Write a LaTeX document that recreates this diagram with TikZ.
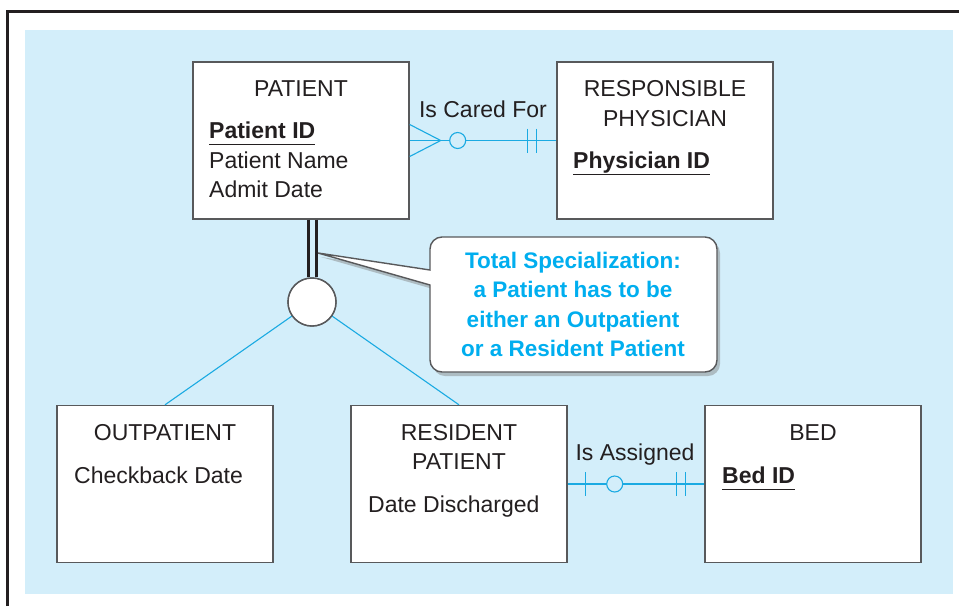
\documentclass[tikz,border=0pt]{standalone}
\usepackage{fontspec}
\setmainfont{Liberation Sans}
\usetikzlibrary{shadows}
\definecolor{bgblue}{HTML}{D3EEFA}
\definecolor{ink}{HTML}{231F20}
\definecolor{cyanline}{HTML}{1AAAE2}
\definecolor{cyantext}{HTML}{00AEEF}
\definecolor{boxgray}{HTML}{58595B}
\tikzset{
  entity/.style={draw=boxgray, line width=1.4pt, fill=white, minimum width=216pt, minimum height=157pt, inner sep=0pt},
  txt/.style={inner sep=0pt, text=ink, font=\fontsize{23}{29.5}\selectfont},
  boldtxt/.style={txt, font=\fontsize{23}{29.5}\selectfont\bfseries},
  rel/.style={draw=cyanline, line width=1.1pt},
  isaline/.style={draw=ink, line width=3pt},
  uline/.style={draw=ink, line width=1pt}
}
\begin{document}
\begin{tikzpicture}[x=1pt,y=-1pt]
\useasboundingbox (0,0) rectangle (959,606);
% frame and background
\fill[bgblue] (25,30) rectangle (953,594);
\draw[ink, line width=2.5pt] (7.5,606) -- (7.5,11.5) -- (959,11.5);

% entities
\node[entity] (patient) at (301,140.5) {};
\node[entity] (physician) at (665,140.5) {};
\node[entity] (outpatient) at (165,484) {};
\node[entity] (resident) at (459,484) {};
\node[entity] (bed) at (813,484) {};

% texts
\node[txt, anchor=base] (tpatient) at (301,96) {PATIENT};
\node[boldtxt, anchor=base west] (pid) at (209,138) {Patient ID};
\node[txt, anchor=base west] (pname) at (209,168) {Patient Name};
\node[txt, anchor=base west] (padmit) at (209,197) {Admit Date};
\draw[uline] ([yshift=-6pt]pid.base west) -- ([yshift=-6pt]pid.base east);

\node[txt, anchor=base] (tresp) at (665,96) {RESPONSIBLE};
\node[txt, anchor=base] (tphys) at (665,126) {PHYSICIAN};
\node[boldtxt, anchor=base west] (phid) at (573,168) {Physician ID};
\draw[uline] ([yshift=-6pt]phid.base west) -- ([yshift=-6pt]phid.base east);

\node[txt, anchor=base] (tout) at (165,440) {OUTPATIENT};
\node[txt, anchor=base west] (checkback) at (74,483) {Checkback Date};

\node[txt, anchor=base] (tres1) at (459,440) {RESIDENT};
\node[txt, anchor=base] (tres2) at (459,469) {PATIENT};
\node[txt, anchor=base west] (discharged) at (368,512) {Date Discharged};

\node[txt, anchor=base] (tbed) at (813,440) {BED};
\node[boldtxt, anchor=base west] (bedid) at (722,483) {Bed ID};
\draw[uline] ([yshift=-6pt]bedid.base west) -- ([yshift=-6pt]bedid.base east);

% Is Cared For relationship
\draw[rel] (patient.east) -- (physician.west);
\draw[rel] ([yshift=16pt]patient.east) -- ([xshift=31pt]patient.east) -- ([yshift=-16pt]patient.east);
\draw[rel, fill=bgblue] ([xshift=48pt]patient.east) circle (8pt);
\draw[rel] ([xshift=-29pt,yshift=12pt]physician.west) -- ([xshift=-29pt,yshift=-12pt]physician.west);
\draw[rel] ([xshift=-20pt,yshift=12pt]physician.west) -- ([xshift=-20pt,yshift=-12pt]physician.west);
\node[txt, anchor=base] (lcared) at (483,117) {Is Cared For};

% Is Assigned relationship
\draw[rel] (resident.east) -- (bed.west);
\draw[rel] ([xshift=18pt,yshift=12pt]resident.east) -- ([xshift=18pt,yshift=-12pt]resident.east);
\draw[rel, fill=bgblue] ([xshift=47pt]resident.east) circle (8pt);
\draw[rel] ([xshift=-28pt,yshift=12pt]bed.west) -- ([xshift=-28pt,yshift=-12pt]bed.west);
\draw[rel] ([xshift=-19pt,yshift=12pt]bed.west) -- ([xshift=-19pt,yshift=-12pt]bed.west);
\node[txt, anchor=base] (lassigned) at (635,460) {Is Assigned};

% specialization
\node[circle, draw=boxgray, line width=1.4pt, fill=white, minimum size=48pt, inner sep=0pt] (isa) at (312,302) {};
\draw[isaline] ([xshift=-4pt]isa.north |- patient.south) -- ([xshift=-4pt]isa.north);
\draw[isaline] ([xshift=4pt]isa.north |- patient.south) -- ([xshift=4pt]isa.north);
\draw[rel] (isa) -- (outpatient.north);
\draw[rel] (isa) -- (resident.north);
\fill[white] (isa) circle (23.3pt);
\draw[boxgray, line width=1.4pt] (isa) circle (24pt);

% callout
\path[draw=boxgray, line width=1.4pt, fill=white, drop shadow={opacity=0.45, shadow xshift=3pt, shadow yshift=-4pt}]
  (430,270) -- (318,253) -- (430,285)
  {[rounded corners=12pt] -- (430,372) -- (717,372) -- (717,237) -- (430,237)} -- cycle;
\node[txt, anchor=north, align=center, text=cyantext, font=\fontsize{22.5}{29.3}\selectfont\bfseries] (note) at (573,252)
  {Total Specialization:\\a Patient has to be\\either an Outpatient\\or a Resident Patient};
\end{tikzpicture}
\end{document}
